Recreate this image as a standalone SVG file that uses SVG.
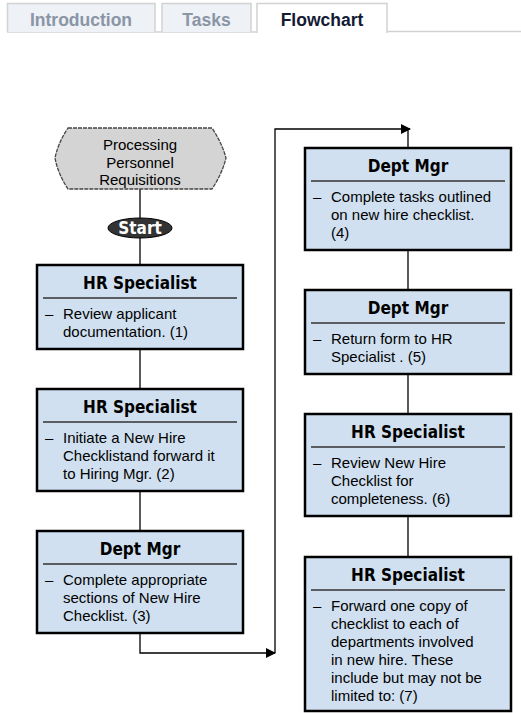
<svg xmlns="http://www.w3.org/2000/svg" width="521" height="713" viewBox="0 0 521 713">
<defs>
<marker id="arr" markerWidth="10" markerHeight="10" refX="9" refY="5" orient="auto" markerUnits="userSpaceOnUse">
<path d="M0,0 L10,5 L0,10 Z" fill="#000"/>
</marker>
<style>
.tab{fill:#eef1f6;stroke:#d2d2d2;stroke-width:1.5}
.tabA{fill:#fff;stroke:#d2d2d2;stroke-width:1.5}
.tt{font-family:"Liberation Sans",Arial,sans-serif;font-weight:bold;font-size:17.5px;text-anchor:middle;fill:#8a95a5}
.ttA{font-family:"Liberation Sans",Arial,sans-serif;font-weight:bold;font-size:17.5px;text-anchor:middle;fill:#141a33}
.box{fill:#d0e0f0;stroke:#000;stroke-width:2.5}
.sep{stroke:#333;stroke-width:1.3}
.hd{font-family:"DejaVu Sans Condensed","DejaVu Sans",Verdana,sans-serif;font-weight:bold;font-size:17px;text-anchor:middle;fill:#000}
.bt{font-family:"Liberation Sans",Arial,sans-serif;font-size:15px;fill:#000}
.conn{fill:none;stroke:#000;stroke-width:1.3}
</style>
</defs>
<g id="tabs">
<line x1="7" y1="32" x2="257" y2="32" stroke="#d2d2d2" stroke-width="1.5"/>
<line x1="387" y1="31.5" x2="521" y2="31.5" stroke="#d2d2d2" stroke-width="1.5"/>
<path class="tab" d="M7.5,32 V3.5 H155 V32"/>
<text class="tt" x="81" y="26">Introduction</text>
<path class="tab" d="M162,32 V3.5 H251 V32"/>
<text class="tt" x="206.5" y="26">Tasks</text>
<path class="tabA" d="M257,33 V3.5 H387 V33"/>
<text class="ttA" x="322" y="26">Flowchart</text>
</g>
<g id="connectors">
<line class="conn" x1="140" y1="189" x2="140" y2="218"/>
<line class="conn" x1="140" y1="238" x2="140" y2="265"/>
<line class="conn" x1="140" y1="349" x2="140" y2="389"/>
<line class="conn" x1="140" y1="491" x2="140" y2="531"/>
<path class="conn" d="M140,633 V653 H275" marker-end="url(#arr)"/>
<path class="conn" d="M275,653 V129 H410" marker-end="url(#arr)"/>
<line class="conn" x1="408" y1="129" x2="408" y2="148"/>
<line class="conn" x1="408" y1="250" x2="408" y2="290"/>
<line class="conn" x1="408" y1="374" x2="408" y2="414"/>
<line class="conn" x1="408" y1="516" x2="408" y2="557"/>
</g>
<g id="title">
<path d="M68,128 H212 Q222,143 226,158 Q222,174 212,189 H68 Q58,174 55,158 Q58,143 68,128 Z" fill="#d4d4d4" stroke="#444" stroke-width="1.3" stroke-dasharray="4,1"/>
<text class="bt" x="140" y="150" text-anchor="middle">Processing</text>
<text class="bt" x="140" y="168" text-anchor="middle">Personnel</text>
<text class="bt" x="140" y="185" text-anchor="middle">Requisitions</text>
</g>
<g id="start">
<ellipse cx="140" cy="228" rx="32" ry="10" fill="#333" stroke="#000" stroke-width="1"/>
<text x="140" y="234" font-family="DejaVu Sans Condensed,DejaVu Sans,sans-serif" font-weight="bold" font-size="17" fill="#fff" text-anchor="middle">Start</text>
</g>
<g id="step1">
<rect class="box" x="37" y="265" width="206" height="84"/>
<text class="hd" x="140" y="289">HR Specialist</text>
<line class="sep" x1="43" y1="298" x2="237" y2="298"/>
<text class="bt" x="45" y="319">–</text>
<text class="bt" x="63" y="319">Review applicant</text>
<text class="bt" x="63" y="337">documentation. (1)</text>
</g>
<g id="step2">
<rect class="box" x="37" y="389" width="206" height="102"/>
<text class="hd" x="140" y="413">HR Specialist</text>
<line class="sep" x1="43" y1="422" x2="237" y2="422"/>
<text class="bt" x="45" y="443">–</text>
<text class="bt" x="63" y="443">Initiate a New Hire</text>
<text class="bt" x="63" y="461">Checklistand forward it</text>
<text class="bt" x="63" y="479">to Hiring Mgr. (2)</text>
</g>
<g id="step3">
<rect class="box" x="37" y="531" width="206" height="102"/>
<text class="hd" x="140" y="555">Dept Mgr</text>
<line class="sep" x1="43" y1="564" x2="237" y2="564"/>
<text class="bt" x="45" y="585">–</text>
<text class="bt" x="63" y="585">Complete appropriate</text>
<text class="bt" x="63" y="603">sections of New Hire</text>
<text class="bt" x="63" y="621">Checklist. (3)</text>
</g>
<g id="step4">
<rect class="box" x="305" y="148" width="206" height="102"/>
<text class="hd" x="408" y="172">Dept Mgr</text>
<line class="sep" x1="311" y1="181" x2="505" y2="181"/>
<text class="bt" x="313" y="202">–</text>
<text class="bt" x="331" y="202">Complete tasks outlined</text>
<text class="bt" x="331" y="220">on new hire checklist.</text>
<text class="bt" x="331" y="238">(4)</text>
</g>
<g id="step5">
<rect class="box" x="305" y="290" width="206" height="84"/>
<text class="hd" x="408" y="314">Dept Mgr</text>
<line class="sep" x1="311" y1="323" x2="505" y2="323"/>
<text class="bt" x="313" y="344">–</text>
<text class="bt" x="331" y="344">Return form to HR</text>
<text class="bt" x="331" y="362">Specialist . (5)</text>
</g>
<g id="step6">
<rect class="box" x="305" y="414" width="206" height="102"/>
<text class="hd" x="408" y="438">HR Specialist</text>
<line class="sep" x1="311" y1="447" x2="505" y2="447"/>
<text class="bt" x="313" y="468">–</text>
<text class="bt" x="331" y="468">Review New Hire</text>
<text class="bt" x="331" y="486">Checklist for</text>
<text class="bt" x="331" y="504">completeness. (6)</text>
</g>
<g id="step7">
<rect class="box" x="305" y="557" width="206" height="154"/>
<text class="hd" x="408" y="581">HR Specialist</text>
<line class="sep" x1="311" y1="590" x2="505" y2="590"/>
<text class="bt" x="313" y="611">–</text>
<text class="bt" x="331" y="611">Forward one copy of</text>
<text class="bt" x="331" y="629">checklist to each of</text>
<text class="bt" x="331" y="647">departments involved</text>
<text class="bt" x="331" y="665">in new hire. These</text>
<text class="bt" x="331" y="683">include but may not be</text>
<text class="bt" x="331" y="701">limited to: (7)</text>
</g>
</svg>
